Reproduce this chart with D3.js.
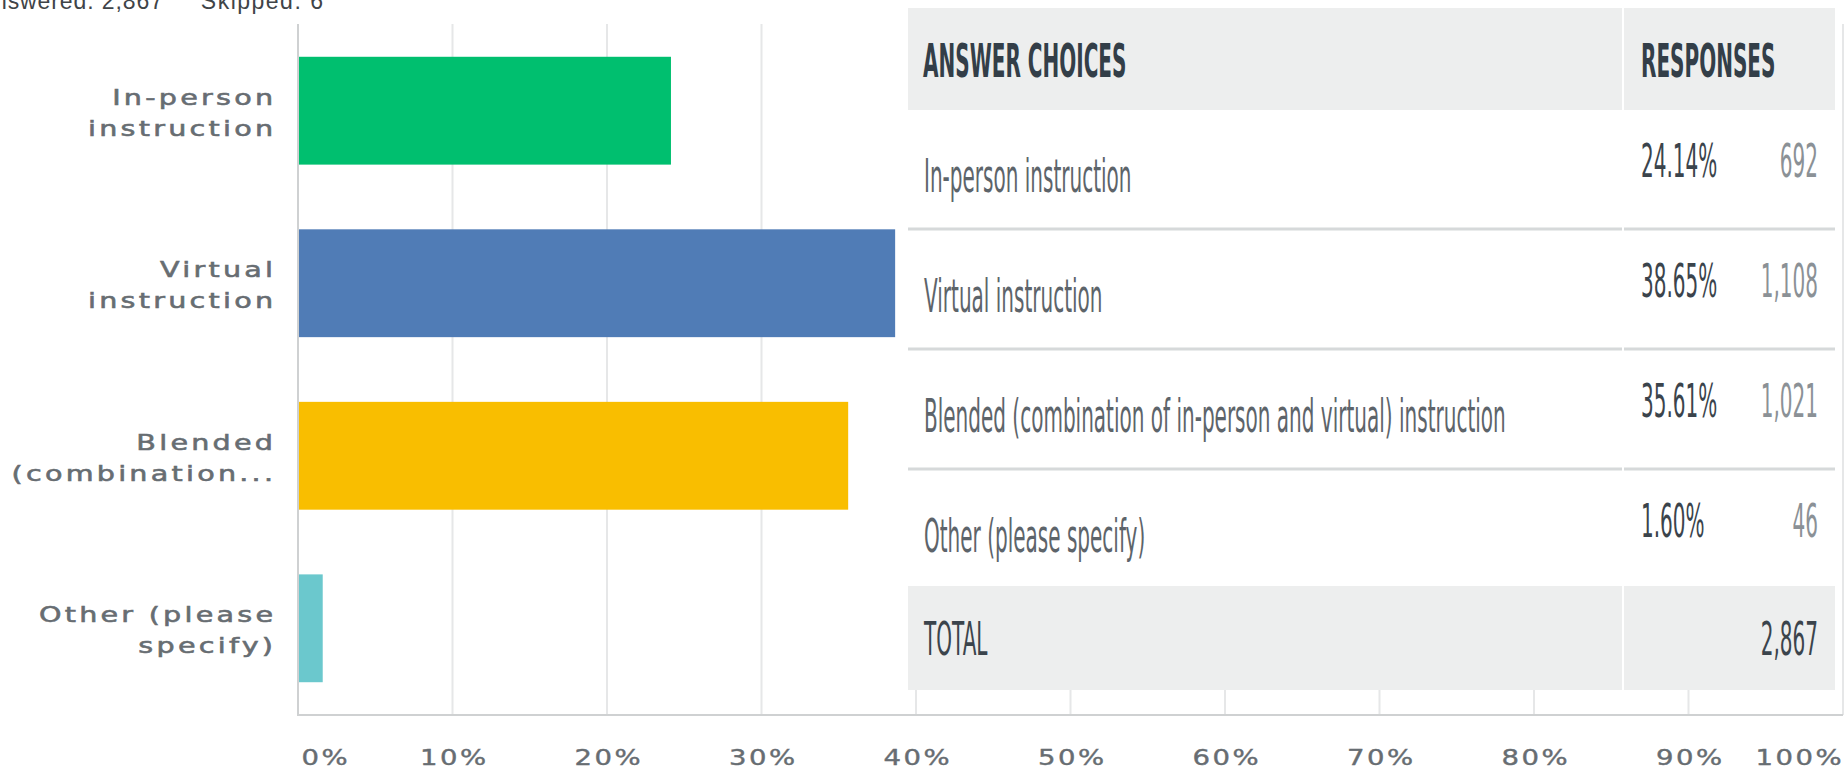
<!DOCTYPE html>
<html>
<head>
<meta charset="utf-8">
<script src="https://cdn.jsdelivr.net/npm/d3@7"></script>
<style>
  body { margin: 0; background: #fff; }
</style>
</head>
<body>
<div id="chart"></div>
<script>
// survey data
var categories = ["In-person instruction", "Virtual instruction", "Blended (combination of in-person and virtual) instruction", "Other (please specify)"];
var axisLabels = [["In-person", "instruction"], ["Virtual", "instruction"], ["Blended", "(combination..."], ["Other (please", "specify)"]];
var percents = [24.14, 38.65, 35.61, 1.60];
var counts = [692, 1108, 1021, 46];
var barColors = ["#00bf6f", "#507cb6", "#f9be00", "#6bc8cd"];
var tickValues = [0, 10, 20, 30, 40, 50, 60, 70, 80, 90, 100];
var tableHeadings = ["ANSWER CHOICES", "RESPONSES"];
var totalLabel = "TOTAL";
var totalCount = 2867;
var answered = 2867;
var skipped = 6;

var width = 1845, height = 768;

var svg = d3.select("#chart").append("svg")
    .attr("width", width)
    .attr("height", height);

var x = d3.scaleLinear().domain([0, 100]).range([298, 1843]);
var y = d3.scaleBand().domain(categories).range([24, 715])
    .paddingInner(0.375).paddingOuter(0.19);

var fmtCount = d3.format(",");

// header text (cut off at the top in the original)
svg.append("text")
    .attr("x", 163 + 0.9).attr("y", 9)
    .attr("text-anchor", "end")
    .style("font-family", "'Liberation Sans', Arial, sans-serif")
    .style("font-size", "23px")
    .style("letter-spacing", "0.9px")
    .attr("fill", "#3f4448")
    .text("Answered: " + fmtCount(answered));
svg.append("text")
    .attr("x", 323 + 1.5).attr("y", 9)
    .attr("text-anchor", "end")
    .style("font-family", "'Liberation Sans', Arial, sans-serif")
    .style("font-size", "23px")
    .style("letter-spacing", "1.5px")
    .attr("fill", "#3f4448")
    .text("Skipped: " + skipped);

// gridlines
svg.append("g").selectAll("line")
    .data(tickValues.slice(1))
    .enter().append("line")
    .attr("x1", function(d) { return x(d); })
    .attr("x2", function(d) { return x(d); })
    .attr("y1", 24).attr("y2", 715)
    .attr("stroke", "#e6e7e8")
    .attr("stroke-width", 2);

// bars
svg.append("g").selectAll("rect")
    .data(percents)
    .enter().append("rect")
    .attr("x", x(0) + 1)
    .attr("y", function(d, i) { return y(categories[i]); })
    .attr("width", function(d) { return x(d) - x(0) - 1; })
    .attr("height", y.bandwidth())
    .attr("fill", function(d, i) { return barColors[i]; });

// axis lines
svg.append("line")
    .attr("x1", x(0)).attr("x2", x(0))
    .attr("y1", 24).attr("y2", 716)
    .attr("stroke", "#cfd1d2").attr("stroke-width", 2);
svg.append("line")
    .attr("x1", x(0) - 1).attr("x2", x(100))
    .attr("y1", 715).attr("y2", 715)
    .attr("stroke", "#cfd1d2").attr("stroke-width", 2);

var labelFont = "'DejaVu Sans', Verdana, sans-serif";
var labelColor = "#676d72";

// category labels, wide and spaced like the original
var ls = 2.5, lsx = 1.3;
var yAxis = svg.append("g")
    .call(d3.axisLeft(y).tickSize(0));
yAxis.select(".domain").remove();
yAxis.selectAll(".tick text").each(function(d) {
  var i = categories.indexOf(d);
  var t = d3.select(this).text("")
      .attr("x", ls)
      .attr("y", 0)
      .attr("dy", null)
      .attr("transform", "translate(273,-6) scale(" + lsx + ",1)")
      .attr("text-anchor", "end")
      .style("font-family", labelFont)
      .style("font-size", "22px")
      .style("letter-spacing", ls + "px")
      .attr("fill", labelColor)
      .attr("stroke", labelColor)
      .attr("stroke-width", 0.6);
  axisLabels[i].forEach(function(line, k) {
    t.append("tspan").attr("x", ls).attr("dy", k === 0 ? 0 : 31).text(line);
  });
});

// x tick labels
var tls = 2, tsx = 1.25;
var xAxis = svg.append("g")
    .attr("transform", "translate(0,715)")
    .call(d3.axisBottom(x).tickValues(tickValues).tickSize(0).tickFormat(function(d) { return d + "%"; }));
xAxis.select(".domain").remove();
xAxis.selectAll(".tick text")
    .attr("y", 0)
    .attr("dy", null)
    .style("font-family", labelFont)
    .style("font-size", "22px")
    .style("letter-spacing", tls + "px")
    .attr("fill", labelColor)
    .attr("stroke", labelColor)
    .attr("stroke-width", 0.4)
    .attr("text-anchor", function(d) { return d === 0 ? "start" : d === 100 ? "end" : "middle"; })
    .attr("x", function(d) { return d === 100 ? tls : d === 0 ? 0 : tls / 2; })
    .attr("transform", function(d) {
      var tx = d === 0 ? 3 : d === 100 ? -2 : 0;
      return "translate(" + tx + ",50) scale(" + tsx + ",1)";
    });

// responses table drawn over the chart
var table = svg.append("g");
var tLeft = 908, tRight = 1835, colX = 1623;
var headTop = 8, headBottom = 110, rowH = 120, totalTop = 586, totalBottom = 690;
var sx = 0.435;

function cellText(str, tx, ty, anchor, weight, color) {
  table.append("text")
      .attr("transform", "translate(" + tx + "," + ty + ") scale(" + sx + ",1)")
      .attr("text-anchor", anchor)
      .style("font-family", labelFont)
      .style("font-size", "46px")
      .style("font-weight", weight)
      .attr("fill", color)
      .text(str);
}

table.append("rect")
    .attr("x", tLeft).attr("y", headBottom)
    .attr("width", tRight - tLeft).attr("height", totalTop - headBottom)
    .attr("fill", "#fff");
table.append("rect")
    .attr("x", tLeft).attr("y", headTop)
    .attr("width", tRight - tLeft).attr("height", headBottom - headTop)
    .attr("fill", "#edeeee");
table.append("rect")
    .attr("x", tLeft).attr("y", totalTop)
    .attr("width", tRight - tLeft).attr("height", totalBottom - totalTop)
    .attr("fill", "#edeeee");
// column divider
[[headTop, headBottom], [totalTop, totalBottom]].forEach(function(r) {
  table.append("line")
      .attr("x1", colX).attr("x2", colX)
      .attr("y1", r[0]).attr("y2", r[1])
      .attr("stroke", "#fff").attr("stroke-width", 2);
});

cellText(tableHeadings[0], 923, 77, "start", "bold", "#333e48");
cellText(tableHeadings[1], 1641, 77, "start", "bold", "#333e48");

categories.forEach(function(c, i) {
  var rTop = i === 0 ? headBottom : 230 + (i - 1) * rowH;
  cellText(c, 924, rTop + 82, "start", "normal", "#5d646a");
  cellText(percents[i].toFixed(2) + "%", 1641, rTop + 67, "start", "normal", "#3b444c");
  cellText(fmtCount(counts[i]), 1818, rTop + 67, "end", "normal", "#8b9196");
  if (i < categories.length - 1) {
    var sepY = 229 + i * rowH;
    [[tLeft, colX - 1], [colX + 1, tRight]].forEach(function(seg) {
      table.append("line")
          .attr("x1", seg[0]).attr("x2", seg[1])
          .attr("y1", sepY).attr("y2", sepY)
          .attr("stroke", "#d6d9da").attr("stroke-width", 3);
    });
  }
});

cellText(totalLabel, 924, 655, "start", "normal", "#3b444c");
cellText(fmtCount(totalCount), 1818, 655, "end", "normal", "#3b444c");
</script>
</body>
</html>
